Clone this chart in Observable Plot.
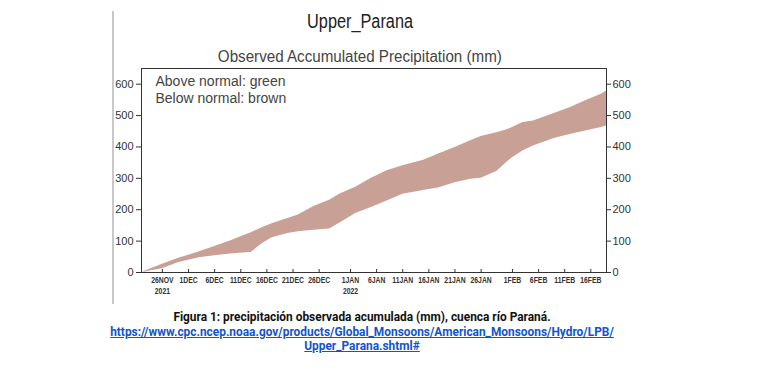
<!DOCTYPE html>
<html><head><meta charset="utf-8">
<script src="https://cdn.jsdelivr.net/npm/d3@7"></script>
<script src="https://cdn.jsdelivr.net/npm/@observablehq/plot@0.6"></script>
<style>
body{margin:0;background:#fff;}
#wrap{position:relative;width:760px;height:376px;overflow:hidden;background:#fff;}
#vline{position:absolute;left:112px;top:11px;width:2px;height:293px;background:#c8c8c8;}
.hdr{position:absolute;left:160px;width:400px;text-align:center;font-family:"Liberation Sans",Arial,sans-serif;white-space:nowrap;}
.hdr span{display:inline-block;transform-origin:50% 50%;}
#title{top:10px;font-size:20px;color:#222;}
#subtitle{top:48px;font-size:16px;color:#444;}
#chart{position:absolute;left:0;top:0;}
#caption{position:absolute;left:42px;width:640px;top:310px;text-align:center;font-family:Roboto,sans-serif;font-weight:bold;font-size:11.9px;line-height:14.5px;color:#111;}
#caption a{color:#1155cc;text-decoration:underline;}
</style></head><body>
<div id="wrap">
 <div id="vline"></div>
 <div id="chart"></div>
 <div id="title" class="hdr"><span>Upper_Parana</span></div>
 <div id="subtitle" class="hdr"><span>Observed Accumulated Precipitation (mm)</span></div>
 <div id="caption">Figura 1: precipitación observada acumulada (mm), cuenca río Paraná.<br><a>https://www.cpc.ncep.noaa.gov/products/Global_Monsoons/American_Monsoons/Hydro/LPB/<br>Upper_Parana.shtml#</a></div>
</div>
<script>
const dates = ["2021-11-22","2021-11-26","2021-11-29","2021-12-03","2021-12-06","2021-12-09","2021-12-12","2021-12-13","2021-12-15","2021-12-17","2021-12-20","2021-12-22","2021-12-25","2021-12-28","2021-12-30","2022-01-02","2022-01-05","2022-01-08","2022-01-11","2022-01-15","2022-01-18","2022-01-21","2022-01-24","2022-01-26","2022-01-29","2022-01-31","2022-02-01","2022-02-03","2022-02-05","2022-02-09","2022-02-12","2022-02-15","2022-02-18","2022-02-19"];
const normal = [0,26,45,65,83,100,120,127,142,155,172,183,210,230,250,272,300,324,340,358,378,398,420,433,445,455,462,478,483,507,525,547,568,578];
const observed = [0,12,31,47,53,59,63,64,91,111,124,130,135,139,158,188,207,228,249,261,270,286,297,300,322,352,366,387,403,427,440,451,462,467];
const tickDates = ["2021-11-26","2021-12-01","2021-12-06","2021-12-11","2021-12-16","2021-12-21","2021-12-26","2022-01-01","2022-01-06","2022-01-11","2022-01-16","2022-01-21","2022-01-26","2022-02-01","2022-02-06","2022-02-11","2022-02-16"];
const tickLabels = ["26NOV\n2021","1DEC","6DEC","11DEC","16DEC","21DEC","26DEC","1JAN\n2022","6JAN","11JAN","16JAN","21JAN","26JAN","1FEB","6FEB","11FEB","16FEB"];
const yTicks = [0,100,200,300,400,500,600];
const legendLines = ["Above normal: green","Below normal: brown"];

const data = dates.map((d,i)=>({date:new Date(d), normal:normal[i], observed:observed[i]}));
const tdates = tickDates.map(d=>new Date(d));
const labelMap = new Map(tdates.map((d,i)=>[+d, tickLabels[i]]));
const font = '"Liberation Sans",Arial,sans-serif';

const chart = Plot.plot({
  width: 760, height: 300,
  marginLeft: 141, marginRight: 154, marginTop: 68, marginBottom: 28,
  x: {type:"utc", domain:[new Date("2021-11-22"), new Date("2022-02-19")]},
  y: {domain:[0,650]},
  style: {fontFamily: font, color:"#333", background:"transparent", overflow:"visible"},
  marks: [
    Plot.areaY(data.map(d=>({...d, hi:Math.max(d.observed,d.normal)})), {x:"date", y1:"normal", y2:"hi", fill:"#4caf50"}),
    Plot.areaY(data.map(d=>({...d, lo:Math.min(d.observed,d.normal)})), {x:"date", y1:"lo", y2:"normal", fill:"#c9a096"}),
    Plot.frame({stroke:"#333"}),
    Plot.axisY({anchor:"left", ticks:yTicks, tickSize:5, tickPadding:3, fontSize:11, label:null}),
    Plot.axisY({anchor:"right", ticks:yTicks, tickSize:4, tickPadding:2, fontSize:11, label:null}),
    Plot.axisX({ticks:tdates, tickSize:-3, tickFormat:()=>"", label:null}),
    Plot.axisX({ticks:tdates, tickSize:0, tickPadding:3, tickFormat:d=>labelMap.get(+d), fontSize:9.5, lineHeight:1.15, fontWeight:"bold", label:null}),
    Plot.text([legendLines.join("\n")], {frameAnchor:"top-left", dx:14, dy:6, lineAnchor:"top", textAnchor:"start", fontSize:14, lineHeight:1.2, fill:"#444"})
  ]
});
document.getElementById("chart").appendChild(chart);

// condense x tick labels horizontally
chart.querySelectorAll('g[aria-label="x-axis tick label"] text').forEach(t => {
  const tr = t.getAttribute("transform") || "";
  t.setAttribute("transform", tr + " scale(0.72,1)");
});

function fit(sel, target){
  const s = document.querySelector(sel);
  const w = s.getBoundingClientRect().width;
  if (w > 0) s.style.transform = `scaleX(${target / w})`;
}
fit("#title span", 106);
fit("#subtitle span", 284);
</script>
</body></html>
